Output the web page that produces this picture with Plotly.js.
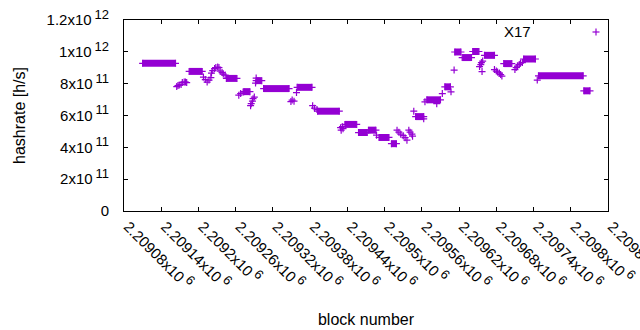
<!DOCTYPE html>
<html>
<head>
<meta charset="utf-8">
<script src="https://cdn.plot.ly/plotly-3.0.1.min.js"></script>
<style>html,body{margin:0;padding:0;background:#fff;}#chart{width:640px;height:330px;}</style>
</head>
<body>
<div id="chart"></div>
<script>
// Runs of consecutive blocks at (nearly) the same hashrate: start block, end block, hashrate [h/s]
const runStart = [2209110, 2209185, 2209245, 2209273, 2209293, 2209305, 2209359, 2209392, 2209436, 2209458, 2209474, 2209491, 2209511, 2209550, 2209568, 2209597, 2209613, 2209625, 2209642, 2209661, 2209692, 2209724, 2209748, 2209821];
const runEnd   = [2209163, 2209206, 2209262, 2209283, 2209302, 2209346, 2209383, 2209427, 2209455, 2209472, 2209486, 2209507, 2209519, 2209563, 2209590, 2209606, 2209623, 2209640, 2209652, 2209677, 2209705, 2209743, 2209820, 2209831];
const runValue = [9.275e11, 8.77e11, 8.33e11, 7.50e11, 8.19e11, 7.69e11, 7.77e11, 6.27e11, 5.44e11, 4.93e11, 5.08e11, 4.62e11, 4.23e11, 5.93e11, 6.985e11, 7.80e11, 9.99e11, 9.64e11, 1.002e12, 9.78e11, 9.26e11, 9.55e11, 8.495e11, 7.55e11];

// Individual (transition) blocks
const pointBlock = [
  2209165, 2209167, 2209169, 2209172, 2209174, 2209177, 2209179, 2209181,
  2209208, 2209211, 2209214, 2209217, 2209220,
  2209221, 2209223, 2209226, 2209228, 2209231, 2209233,
  2209235, 2209238, 2209240, 2209243,
  2209265, 2209268, 2209272,
  2209284, 2209285, 2209287, 2209288, 2209290,
  2209292, 2209293,
  2209349, 2209351, 2209354, 2209358,
  2209384, 2209387, 2209391,
  2209429, 2209430, 2209432, 2209433,
  2209487,
  2209520, 2209523, 2209526, 2209530, 2209533, 2209536,
  2209539, 2209541, 2209544, 2209545,
  2209547, 2209563, 2209565, 2209584, 2209593, 2209607, 2209612,
  2209653, 2209655, 2209656, 2209658, 2209657,
  2209677, 2209680, 2209682, 2209685, 2209687, 2209689,
  2209710, 2209712, 2209714, 2209717, 2209719, 2209722,
  2209746
];
const pointValue = [
  7.815e11, 7.878e11, 7.91e11, 7.94e11, 8.067e11, 8.10e11, 8.10e11, 8.067e11,
  8.413e11, 8.256e11, 8.099e11, 8.225e11, 8.382e11,
  8.665e11, 8.822e11, 8.948e11, 9.011e11, 9.043e11, 9.011e11,
  8.791e11, 8.696e11, 8.602e11, 8.539e11,
  7.28e11, 7.375e11, 7.47e11,
  6.62e11, 6.746e11, 6.903e11, 7.06e11, 7.155e11,
  8.036e11, 8.35e11,
  6.872e11, 6.966e11, 6.903e11, 7.438e11,
  6.62e11, 6.46e11, 6.37e11,
  5.235e11, 5.078e11, 5.298e11, 5.17e11,
  4.764e11,
  5.078e11, 4.952e11, 4.826e11, 4.732e11, 4.606e11, 4.449e11,
  5.078e11, 4.952e11, 4.826e11, 4.70e11,
  6.274e11, 5.789e11, 6.859e11, 6.746e11, 7.375e11, 7.488e11, 8.854e11,
  9.074e11, 9.20e11, 9.326e11, 9.42e11, 8.76e11,
  8.885e11, 8.79e11, 8.728e11, 8.665e11, 8.57e11, 8.476e11,
  8.885e11, 9.011e11, 9.105e11, 9.20e11, 9.294e11, 9.326e11,
  8.225e11
];

const xTickVals = [2209080, 2209140, 2209200, 2209260, 2209320, 2209380, 2209440, 2209500, 2209560, 2209620, 2209680, 2209740, 2209800, 2209860];
const xTickText = ['2.20908', '2.20914', '2.2092', '2.20926', '2.20932', '2.20938', '2.20944', '2.2095', '2.20956', '2.20962', '2.20968', '2.20974', '2.2098', '2.20986'];
const yTickVals = [0, 2e11, 4e11, 6e11, 8e11, 1e12, 1.2e12];
const yTickText = ['0', '2x10', '4x10', '6x10', '8x10', '1x10', '1.2x10'];
const yTickExp  = ['', '11', '11', '11', '11', '12', '12'];

const COLOR = '#9400D3';
const FONT = 'Liberation Sans, Arial, sans-serif';
const sup = e => '<sup> <span style="font-size:13px">' + e + '</span></sup>';

// Build segment trace for runs
const segX = [], segY = [];
for (let i = 0; i < runStart.length; i++) {
  segX.push(runStart[i], runEnd[i], null);
  segY.push(runValue[i], runValue[i], null);
}

const marker = {symbol: 'cross-thin', size: 5, color: COLOR, line: {color: COLOR, width: 1.2}};

const traces = [
  {type: 'scatter', mode: 'lines+markers', x: segX, y: segY, connectgaps: false,
   line: {color: COLOR, width: 7}, marker: marker, showlegend: false, hoverinfo: 'skip'},
  {type: 'scatter', mode: 'markers', x: pointBlock, y: pointValue, name: 'X17',
   marker: marker, showlegend: false, hoverinfo: 'skip'}
];

const layout = {
  width: 640, height: 330,
  margin: {l: 124, r: 32, t: 20, b: 119},
  paper_bgcolor: '#fff', plot_bgcolor: '#fff',
  font: {family: FONT, size: 15, color: '#000'},
  showlegend: false,
  xaxis: {
    range: [2209080, 2209860], autorange: false,
    tickmode: 'array', tickvals: xTickVals,
    ticktext: xTickText.map(t => t + 'x10' + sup('6')),
    tickangle: 45, ticks: 'inside', ticklen: 4, tickcolor: '#000',
    ticklabeloverflow: 'allow', ticklabelshift: 4,
    showline: true, linecolor: '#000', linewidth: 1, mirror: 'ticks',
    showgrid: false, zeroline: false,
    tickfont: {family: FONT, size: 15, color: '#000'},
    title: {text: 'block number', font: {family: FONT, size: 16, color: '#000'}, standoff: 22}
  },
  yaxis: {
    range: [0, 1.2e12], autorange: false,
    tickmode: 'array', tickvals: yTickVals,
    ticktext: yTickText.map((t, i) => yTickExp[i] ? t + sup(yTickExp[i]) : t),
    ticks: 'inside', ticklen: 4, tickcolor: '#000',
    showline: true, linecolor: '#000', linewidth: 1, mirror: 'ticks',
    showgrid: false, zeroline: false, ticklabelstandoff: 11,
    tickfont: {family: FONT, size: 15, color: '#000'},
    title: {text: 'hashrate [h/s]', font: {family: FONT, size: 16, color: '#000'}, standoff: 16}
  },
  annotations: [
    {xref: 'paper', yref: 'paper', x: (533 - 124) / 484, y: 1 - (32 - 20) / 191, xanchor: 'right', yanchor: 'middle',
     text: 'X17', showarrow: false, font: {family: FONT, size: 15, color: '#000'}}
  ],
  shapes: [
    {type: 'line', xref: 'paper', yref: 'paper', x0: (592.5 - 124) / 484, x1: (599.5 - 124) / 484, y0: 1 - 12 / 191, y1: 1 - 12 / 191, line: {color: COLOR, width: 1.2}},
    {type: 'line', xref: 'paper', yref: 'paper', x0: (596 - 124) / 484, x1: (596 - 124) / 484, y0: 1 - 8.5 / 191, y1: 1 - 15.5 / 191, line: {color: COLOR, width: 1.2}}
  ]
};

Plotly.newPlot('chart', traces, layout, {displayModeBar: false, staticPlot: true});
</script>
</body>
</html>
